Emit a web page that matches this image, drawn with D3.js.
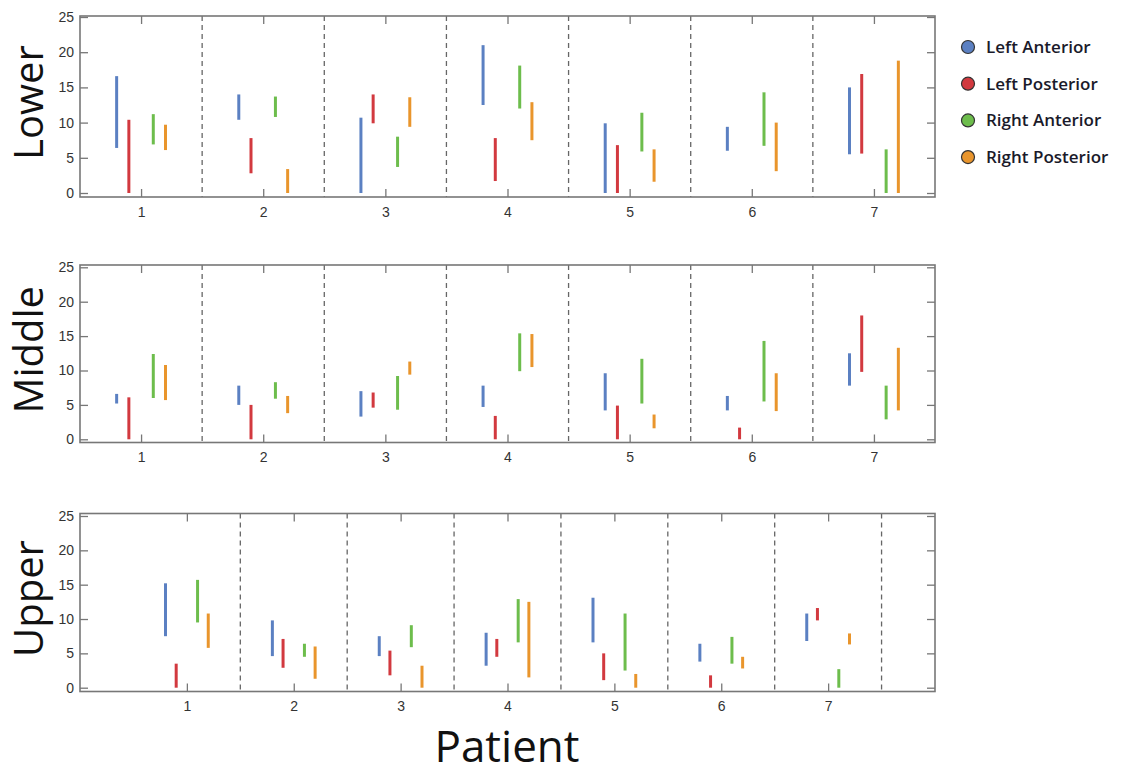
<!DOCTYPE html>
<html>
<head>
<meta charset="utf-8">
<script src="https://cdn.jsdelivr.net/npm/d3@7"></script>
<style>
  body { margin: 0; background: #fff; }
  .tick text { font-family: 'Liberation Sans', Arial, sans-serif; font-size: 14px; fill: #333; }
</style>
</head>
<body>
<div id="chart"></div>
<script>
// categories
let patients = [1, 2, 3, 4, 5, 6, 7]
let series = ['Left Anterior', 'Left Posterior', 'Right Anterior', 'Right Posterior']
let seriesColors = ['#5b80c2', '#d2393f', '#6dbd4c', '#e9952c']
let yTicks = [0, 5, 10, 15, 20, 25]

// ranges [low, high] per patient, one array per series
let lowerLA = [[6.4, 16.6], [10.4, 14.0], [0, 10.7], [12.5, 21.0], [0, 9.9], [6.0, 9.4], [5.5, 15.0]]
let lowerLP = [[0, 10.4], [2.8, 7.8], [9.9, 14.0], [1.7, 7.8], [0, 6.8], null, [5.6, 16.9]]
let lowerRA = [[6.9, 11.2], [10.8, 13.7], [3.7, 8.0], [12.0, 18.1], [5.9, 11.4], [6.7, 14.3], [0, 6.2]]
let lowerRP = [[6.1, 9.7], [0, 3.4], [9.4, 13.6], [7.5, 12.9], [1.6, 6.2], [3.1, 10.0], [0, 18.8]]

let middleLA = [[5.2, 6.6], [5.0, 7.8], [3.3, 7.0], [4.7, 7.8], [4.2, 9.6], [4.2, 6.3], [7.8, 12.5]]
let middleLP = [[0, 6.1], [0, 5.0], [4.6, 6.8], [0, 3.4], [0, 4.9], [0, 1.7], [9.8, 18.0]]
let middleRA = [[6.0, 12.4], [5.9, 8.3], [4.3, 9.2], [9.9, 15.4], [5.2, 11.7], [5.5, 14.3], [2.9, 7.8]]
let middleRP = [[5.7, 10.8], [3.8, 6.3], [9.4, 11.3], [10.5, 15.3], [1.6, 3.6], [4.1, 9.6], [4.2, 13.3]]

let upperLA = [[7.5, 15.2], [4.6, 9.8], [4.6, 7.5], [3.2, 8.0], [6.6, 13.1], [3.8, 6.4], [6.8, 10.8]]
let upperLP = [[0, 3.5], [2.9, 7.1], [1.8, 5.4], [4.5, 7.1], [1.1, 5.0], [0, 1.8], [9.8, 11.6]]
let upperRA = [[9.5, 15.7], [4.5, 6.4], [5.9, 9.1], [6.6, 12.9], [2.5, 10.8], [3.5, 7.4], [0, 2.7]]
let upperRP = [[5.8, 10.8], [1.3, 6.0], [0, 3.2], [1.5, 12.5], [0, 2.0], [2.8, 4.5], [6.3, 7.9]]

let offsets = [-0.2, -0.1, 0.1, 0.2]

let panels = [
  { name: 'Lower', data: [lowerLA, lowerLP, lowerRA, lowerRP], top: 16, bottom: 197, y0: 193, y25: 17, xDomain: [0.5, 7.5], dividers: [1.5, 2.5, 3.5, 4.5, 5.5, 6.5] },
  { name: 'Middle', data: [middleLA, middleLP, middleRA, middleRP], top: 265, bottom: 442.5, y0: 439.3, y25: 267.3, xDomain: [0.5, 7.5], dividers: [1.5, 2.5, 3.5, 4.5, 5.5, 6.5] },
  { name: 'Upper', data: [upperLA, upperLP, upperRA, upperRP], top: 513.5, bottom: 691.5, y0: 687.7, y25: 516, xDomain: [0, 8], dividers: [1.5, 2.5, 3.5, 4.5, 5.5, 6.5, 7.5] }
]

let left = 80
let right = 935

let svg = d3.select('#chart')
  .append('svg')
  .attr('width', 1122)
  .attr('height', 775)

panels.forEach(p => {
  let x = d3.scaleLinear().domain(p.xDomain).range([left, right])
  let y = d3.scaleLinear().domain([0, 25]).range([p.y0, p.y25])
  let g = svg.append('g')

  // dashed separators between patients
  g.selectAll('.divider')
    .data(p.dividers)
    .enter()
    .append('line')
    .attr('x1', d => x(d))
    .attr('x2', d => x(d))
    .attr('y1', p.top)
    .attr('y2', p.bottom)
    .attr('stroke', '#666')
    .attr('stroke-width', 1.3)
    .attr('stroke-dasharray', '5,4')

  // axes, ticks pointing inward on all four sides
  let axisStyle = sel => {
    sel.select('.domain').remove()
    sel.selectAll('.tick line').attr('stroke', '#777').attr('stroke-width', 1.3)
  }
  g.append('g')
    .attr('transform', 'translate(' + left + ',0)')
    .call(d3.axisLeft(y).tickValues(yTicks).tickSize(-8).tickPadding(6))
    .call(axisStyle)
  g.append('g')
    .attr('transform', 'translate(' + right + ',0)')
    .call(d3.axisRight(y).tickValues(yTicks).tickSize(-8).tickFormat(''))
    .call(axisStyle)
  g.append('g')
    .attr('transform', 'translate(0,' + p.bottom + ')')
    .call(d3.axisBottom(x).tickValues(patients).tickSize(-8).tickPadding(10).tickFormat(d3.format('d')))
    .call(axisStyle)
  g.append('g')
    .attr('transform', 'translate(0,' + p.top + ')')
    .call(d3.axisTop(x).tickValues(patients).tickSize(-8).tickFormat(''))
    .call(axisStyle)

  // frame
  g.append('rect')
    .attr('x', left)
    .attr('y', p.top)
    .attr('width', right - left)
    .attr('height', p.bottom - p.top)
    .attr('fill', 'none')
    .attr('stroke', '#777')
    .attr('stroke-width', 1.6)

  // range bars
  p.data.forEach((rows, si) => {
    g.selectAll('.bar' + si)
      .data(rows.map((r, i) => ({ r: r, patient: patients[i] })).filter(d => d.r))
      .enter()
      .append('line')
      .attr('x1', d => x(d.patient + offsets[si]))
      .attr('x2', d => x(d.patient + offsets[si]))
      .attr('y1', d => y(d.r[0]))
      .attr('y2', d => y(d.r[1]))
      .attr('stroke', seriesColors[si])
      .attr('stroke-width', 3)
  })

  // panel title
  svg.append('text')
    .attr('transform', 'translate(43,' + ((p.top + p.bottom) / 2 - 4) + ') rotate(-90)')
    .attr('text-anchor', 'middle')
    .attr('font-family', "'Open Sans', sans-serif")
    .attr('font-size', 40)
    .attr('fill', '#111')
    .text(p.name)
})

// legend
let legend = svg.append('g')
legend.selectAll('g')
  .data(series)
  .enter()
  .append('g')
  .attr('transform', (d, i) => 'translate(968,' + (47 + i * 36.7) + ')')
  .each(function (d, i) {
    let item = d3.select(this)
    item.append('circle')
      .attr('r', 6.5)
      .attr('fill', seriesColors[i])
      .attr('stroke', '#333')
      .attr('stroke-width', 1.2)
    item.append('text')
      .attr('x', 18)
      .attr('dy', '0.35em')
      .attr('font-family', "'Open Sans', sans-serif")
      .attr('font-weight', 600)
      .attr('font-size', 17)
      .attr('fill', '#1a1a2a')
      .text(d)
  })

// x label
svg.append('text')
  .attr('x', 507)
  .attr('y', 762)
  .attr('text-anchor', 'middle')
  .attr('font-family', "'Open Sans', sans-serif")
  .attr('font-size', 44)
  .attr('fill', '#111')
  .text('Patient')
</script>
</body>
</html>
